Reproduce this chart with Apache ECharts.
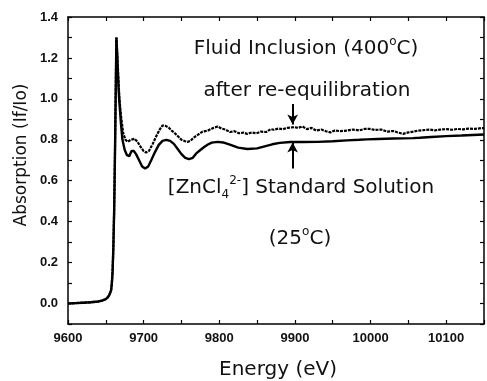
<!DOCTYPE html>
<html>
<head>
<meta charset="utf-8">
<script src="https://cdn.jsdelivr.net/npm/echarts@6/dist/echarts.min.js"></script>
<style>
  html, body { margin: 0; background: #fff; }
  #chart { width: 487px; height: 381px; }
</style>
</head>
<body>
<div id="chart"></div>
<script>
// [ZnCl4 2-] standard solution (solid line)
const stdEnergy = [
  9600, 9610, 9620, 9630, 9640, 9645, 9650, 9653, 9655, 9657, 9658, 9659,
  9660, 9661, 9662, 9663, 9664, 9665, 9666, 9667, 9668, 9670, 9672, 9675,
  9678, 9681, 9684, 9687, 9690, 9694, 9698, 9702, 9706, 9710, 9715, 9720,
  9725, 9730, 9735, 9740, 9745, 9750, 9755, 9760, 9765, 9770, 9775, 9780,
  9785, 9790, 9798, 9805, 9815, 9825, 9837, 9850, 9860, 9870, 9880, 9894,
  9910, 9930, 9950, 9969, 9985, 9995, 10010, 10030, 10056, 10065, 10080,
  10100, 10120, 10150
];
const stdAbs = [
  0.000, 0.002, 0.004, 0.006, 0.010, 0.014, 0.022, 0.032, 0.045, 0.065, 0.10, 0.16,
  0.28, 0.45, 0.70, 1.00, 1.30, 1.22, 1.12, 1.04, 0.98, 0.88, 0.80, 0.75,
  0.725, 0.72, 0.745, 0.745, 0.73, 0.70, 0.67, 0.66, 0.67, 0.70, 0.74, 0.775,
  0.795, 0.80, 0.795, 0.78, 0.755, 0.73, 0.712, 0.706, 0.712, 0.735, 0.75, 0.765,
  0.777, 0.786, 0.79, 0.787, 0.775, 0.762, 0.755, 0.758, 0.768, 0.778, 0.785, 0.789,
  0.789, 0.790, 0.793, 0.797, 0.800, 0.802, 0.804, 0.806, 0.808, 0.810, 0.814,
  0.818, 0.821, 0.826
];

// fluid inclusion (400°C) after re-equilibration (noisy line)
const fluidEnergy = [
  9600, 9610, 9620, 9630, 9640, 9645, 9650, 9653, 9655, 9657, 9658, 9659,
  9660, 9661, 9662, 9663, 9664, 9666, 9668, 9670, 9673, 9676, 9679, 9683,
  9688, 9692, 9696, 9700, 9703, 9707, 9712, 9717, 9722, 9725, 9729, 9733,
  9737, 9741, 9746, 9750, 9755, 9758, 9762, 9766, 9772, 9778, 9785, 9792,
  9798, 9803, 9808, 9814, 9820, 9826, 9832, 9837, 9843, 9849, 9855, 9862,
  9868, 9872, 9878, 9884, 9890, 9895, 9899, 9904, 9910, 9916, 9922, 9928,
  9935, 9941, 9947, 9953, 9960, 9969, 9977, 9985, 9992, 9999, 10006, 10014,
  10022, 10030, 10037, 10043, 10050, 10057, 10063, 10070, 10078, 10085, 10092,
  10100, 10108, 10115, 10122, 10130, 10138, 10146, 10150
];
const fluidAbs = [
  0.000, 0.002, 0.004, 0.006, 0.010, 0.014, 0.022, 0.032, 0.045, 0.065, 0.10, 0.16,
  0.28, 0.45, 0.70, 1.00, 1.30, 1.15, 1.00, 0.92, 0.833, 0.80, 0.79, 0.80,
  0.805, 0.79, 0.765, 0.745, 0.738, 0.745, 0.78, 0.82, 0.855, 0.87, 0.868, 0.86,
  0.845, 0.833, 0.815, 0.80, 0.793, 0.79, 0.795, 0.81, 0.825, 0.84, 0.845, 0.858,
  0.865, 0.855, 0.85, 0.838, 0.842, 0.832, 0.835, 0.829, 0.836, 0.832, 0.84, 0.838,
  0.852, 0.849, 0.855, 0.852, 0.858, 0.86, 0.862, 0.858, 0.865, 0.852, 0.858, 0.845,
  0.85, 0.842, 0.836, 0.846, 0.842, 0.845, 0.85, 0.846, 0.853, 0.853, 0.848, 0.85,
  0.84, 0.843, 0.835, 0.829, 0.836, 0.84, 0.845, 0.847, 0.85, 0.846, 0.85,
  0.852, 0.849, 0.853, 0.851, 0.855, 0.853, 0.857, 0.857
];

// arrows at 9900 eV: [energy, from, to]
const arrows = [
  [9897, 0.975, 0.875],
  [9897, 0.66, 0.787]
];

const pairs = (xs, ys) => xs.map((x, i) => [x, ys[i]]);

const black = '#000';
const ink = '#111';
const tickFont = { fontFamily: 'Liberation Sans', fontWeight: 'bold', fontSize: 13, color: ink };
const frame = { show: true, onZero: false, lineStyle: { color: black, width: 1.5 } };
const ticks = { show: true, inside: true, length: 4, lineStyle: { color: black, width: 1.2 } };

const xBase = { type: 'value', min: 9600, max: 10150, interval: 50, axisLine: frame, axisTick: ticks, splitLine: { show: false } };
const yBase = { type: 'value', min: -0.1, max: 1.4, interval: 0.1, axisLine: frame, axisTick: ticks, splitLine: { show: false } };

const annoFont = 'DejaVu Sans';
const rich = {
  n: { fontFamily: annoFont, fontSize: 20, color: ink, lineHeight: 26 },
  s: { fontFamily: annoFont, fontSize: 12, color: ink, verticalAlign: 'top', lineHeight: 8 },
  b: { fontFamily: annoFont, fontSize: 12, color: ink, verticalAlign: 'bottom', lineHeight: 13 }
};
const annoText = (x, y, text) => ({
  type: 'text', x: x, y: y,
  style: { text: text, rich: rich, align: 'center', verticalAlign: 'middle', fill: ink }
});

var myChart = echarts.init(document.getElementById('chart'));
myChart.setOption({
  animation: false,
  backgroundColor: '#fff',
  grid: { left: 68, right: 2, top: 17, bottom: 57 },
  xAxis: [
    Object.assign({}, xBase, {
      position: 'bottom',
      axisLabel: Object.assign({}, tickFont, {
        margin: 8,
        formatter(v) { return v % 100 === 0 && v < 10150 ? String(v) : ''; }
      })
    }),
    Object.assign({}, xBase, { position: 'top', axisLabel: { show: false } })
  ],
  yAxis: [
    Object.assign({}, yBase, {
      position: 'left',
      axisLabel: Object.assign({}, tickFont, {
        margin: 10,
        formatter(v) {
          const k = Math.round(v * 10);
          return k >= 0 && k % 2 === 0 ? (k / 10).toFixed(1) : '';
        }
      })
    }),
    Object.assign({}, yBase, { position: 'right', axisLabel: { show: false } })
  ],
  series: [
    {
      name: 'Standard Solution',
      type: 'line',
      data: pairs(stdEnergy, stdAbs),
      symbol: 'none',
      lineStyle: { color: black, width: 2.4 },
      markLine: {
        silent: true,
        symbol: ['none', 'arrow'],
        symbolSize: [8, 10],
        label: { show: false },
        lineStyle: { color: black, width: 2, type: 'solid' },
        data: arrows.map(a => [{ coord: [a[0], a[1]] }, { coord: [a[0], a[2]] }])
      }
    },
    {
      name: 'Fluid Inclusion',
      type: 'line',
      data: pairs(fluidEnergy, fluidAbs),
      symbol: 'none',
      lineStyle: { color: black, width: 2.2, type: [3, 1] }
    }
  ],
  graphic: [
    annoText(306, 49, '{n|Fluid Inclusion (400}{s|o}{n|C)}'),
    annoText(307, 91, '{n|after re-equilibration}'),
    annoText(301, 188, '{n|[ZnCl}{b|4}{s|2-}{n|] Standard Solution}'),
    annoText(300, 239, '{n|(25}{s|o}{n|C)}'),
    {
      type: 'text', x: 22, y: 155, rotation: Math.PI / 2,
      style: { text: 'Absorption (If/Io)', font: '17px "DejaVu Sans"', fill: ink, align: 'center', verticalAlign: 'middle' }
    },
    {
      type: 'text', x: 278, y: 370,
      style: { text: 'Energy (eV)', font: '20px "DejaVu Sans"', fill: ink, align: 'center', verticalAlign: 'middle' }
    }
  ]
});
</script>
</body>
</html>
